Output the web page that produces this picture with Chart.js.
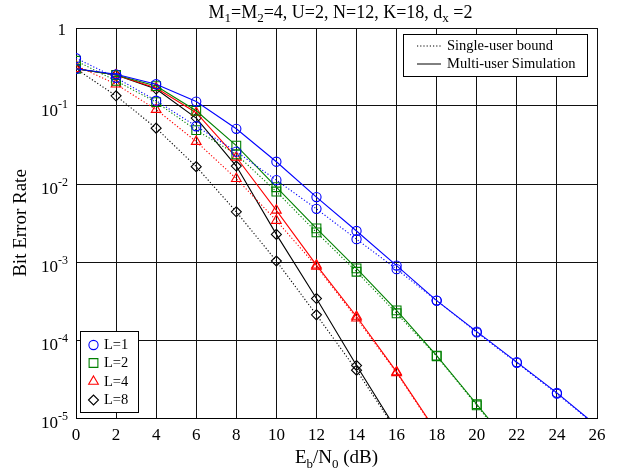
<!DOCTYPE html>
<html>
<head>
<meta charset="utf-8">
<script src="https://cdn.jsdelivr.net/npm/chart.js@4/dist/chart.umd.min.js"></script>
<style>
  html, body { margin: 0; padding: 0; background: #fff; }
  #wrap { width: 624px; height: 473px; position: relative; }
</style>
</head>
<body>
<div id="wrap"><canvas id="c" width="624" height="473"></canvas></div>
<script>
// ---- Data ----
const ebn0 = [0, 2, 4, 6, 8, 10, 12, 14, 16, 18, 20, 22, 24, 26];
const xTicks = [0, 2, 4, 6, 8, 10, 12, 14, 16, 18, 20, 22, 24, 26];
const yTickExponents = [0, -1, -2, -3, -4, -5];

const L1_multi  = [0.30, 0.255, 0.19, 0.114, 0.051, 0.0193, 0.0068, 0.0025, 0.0009, 0.00032, 0.000128, 0.000052, 0.000021, 0.0000079];
const L1_single = [0.41, 0.23, 0.117, 0.055, 0.026, 0.0112, 0.0048, 0.00196, 0.00081, 0.00032, 0.000125, 0.000051, 0.0000205, 0.0000078];
const L2_multi  = [0.30, 0.25, 0.18, 0.087, 0.031, 0.0091, 0.0027, 0.00083, 0.00024, 0.000063, 0.000015, 0.0000035];
const L2_single = [0.38, 0.21, 0.112, 0.049, 0.024, 0.0080, 0.0024, 0.00075, 0.00022, 0.000062, 0.0000145, 0.0000033];
const L4_multi  = [0.30, 0.25, 0.17, 0.082, 0.022, 0.0046, 0.00091, 0.0002, 0.000039, 0.0000066];
const L4_single = [0.33, 0.19, 0.09, 0.035, 0.0117, 0.0034, 0.00088, 0.00019, 0.000038, 0.0000064];
const L8_multi  = [0.30, 0.25, 0.165, 0.07, 0.017, 0.00226, 0.00034, 0.000047, 0.000007];
const L8_single = [0.30, 0.135, 0.052, 0.0167, 0.0044, 0.00103, 0.00021, 0.000041, 0.0000068];

const seriesNames = ['L=1', 'L=2', 'L=4', 'L=8'];
const lineLegend = ['Single-user bound', 'Multi-user Simulation'];

// ---- styles ----
const FONT = '"Liberation Serif", "Times New Roman", Times, serif';
const colors = ['#0000ff', '#008000', '#ff0000', '#000000'];
const shapes = ['circle', 'rect', 'triangle', 'rectRot'];
const radii  = [4.6, 6.2, 5.6, 5.0];

function pts(arr) { return arr.map((v, i) => ({ x: ebn0[i], y: v })); }

const multi = [L1_multi, L2_multi, L4_multi, L8_multi];
const single = [L1_single, L2_single, L4_single, L8_single];

const datasets = [];
for (let k = 0; k < 4; k++) {
  datasets.push({
    label: seriesNames[k] + ' single',
    data: pts(single[k]),
    borderColor: colors[k],
    borderWidth: 1.1,
    borderDash: [1.2, 2],
    pointStyle: shapes[k],
    pointRadius: radii[k],
    pointBorderColor: colors[k],
    pointBackgroundColor: 'rgba(0,0,0,0)',
    pointBorderWidth: 1.1,
    tension: 0
  });
  datasets.push({
    label: seriesNames[k] + ' multi',
    data: pts(multi[k]),
    borderColor: colors[k],
    borderWidth: 1.1,
    pointStyle: shapes[k],
    pointRadius: radii[k],
    pointBorderColor: colors[k],
    pointBackgroundColor: 'rgba(0,0,0,0)',
    pointBorderWidth: 1.1,
    tension: 0
  });
}

function drawRuns(ctx, runs, cx, cy, size, align) {
  const subSize = Math.round(size * 0.7);
  let total = 0;
  const widths = runs.map(r => {
    ctx.font = (r.sub || r.sup ? subSize : size) + 'px ' + FONT;
    const w = ctx.measureText(r.t).width;
    total += w;
    return w;
  });
  let x = align === 'right' ? cx - total : (align === 'left' ? cx : cx - total / 2);
  ctx.textBaseline = 'alphabetic';
  ctx.textAlign = 'left';
  const base = cy + size * 0.33;
  runs.forEach((r, i) => {
    ctx.font = (r.sub || r.sup ? subSize : size) + 'px ' + FONT;
    let y = base;
    if (r.sub) y = base + size * 0.25;
    if (r.sup) y = base - size * 0.42;
    ctx.fillText(r.t, x, y);
    x += widths[i];
  });
}

const decor = {
  id: 'decor',
  afterDatasetsDraw(chart) {
    const ctx = chart.ctx;
    ctx.save();
    // --- top-right legend (line styles) ---
    const bx = 403.5, by = 34.5, bw = 184, bh = 42;
    ctx.fillStyle = '#fff';
    ctx.fillRect(bx, by, bw, bh);
    ctx.strokeStyle = '#000';
    ctx.lineWidth = 1;
    ctx.strokeRect(bx, by, bw, bh);
    ctx.beginPath();
    ctx.setLineDash([1.2, 2]);
    ctx.moveTo(417, 46); ctx.lineTo(441, 46);
    ctx.stroke();
    ctx.setLineDash([]);
    ctx.beginPath();
    ctx.moveTo(417, 64); ctx.lineTo(441, 64);
    ctx.stroke();
    ctx.fillStyle = '#000';
    ctx.font = '14.5px ' + FONT;
    ctx.textAlign = 'left';
    ctx.textBaseline = 'middle';
    ctx.fillText(lineLegend[0], 447, 46);
    ctx.fillText(lineLegend[1], 447, 64);

    // --- bottom-left legend (markers) ---
    const lx = 80.5, ly = 331.5, lw = 58, lh = 81;
    ctx.fillStyle = '#fff';
    ctx.fillRect(lx, ly, lw, lh);
    ctx.strokeStyle = '#000';
    ctx.strokeRect(lx, ly, lw, lh);
    const rowsY = [345, 363, 381.5, 400];
    for (let k = 0; k < 4; k++) {
      const opts = { pointStyle: shapes[k], radius: radii[k], borderWidth: 1.1, rotation: 0 };
      ctx.strokeStyle = colors[k];
      ctx.fillStyle = 'rgba(0,0,0,0)';
      ctx.lineWidth = 1.1;
      if (Chart.helpers && Chart.helpers.drawPoint) {
        Chart.helpers.drawPoint(ctx, opts, 93.5, rowsY[k]);
      }
      ctx.fillStyle = '#000';
      ctx.font = '14.5px ' + FONT;
      ctx.textAlign = 'left';
      ctx.textBaseline = 'middle';
      ctx.fillText(seriesNames[k], 104, rowsY[k] + 0.5);
    }
    ctx.restore();
  },
  afterDraw(chart) {
    const ctx = chart.ctx;
    const area = chart.chartArea;
    const xs = chart.scales.x, ys = chart.scales.y;
    ctx.save();
    ctx.fillStyle = '#000';
    // x tick labels
    ctx.font = '17px ' + FONT;
    ctx.textAlign = 'center';
    ctx.textBaseline = 'middle';
    xTicks.forEach(v => {
      ctx.fillText(String(v), xs.getPixelForValue(v), area.bottom + 18);
    });
    // y tick labels
    yTickExponents.forEach(e => {
      const y = ys.getPixelForValue(Math.pow(10, e));
      if (e === 0) {
        ctx.font = '17px ' + FONT;
        ctx.textAlign = 'right';
        ctx.textBaseline = 'middle';
        ctx.fillText('1', 66, y + 3);
      } else {
        drawRuns(ctx, [{ t: '10' }, { t: String(e), sup: true }], 68, y + 4, 17, 'right');
      }
    });
    // title
    drawRuns(ctx, [
      { t: 'M' }, { t: '1', sub: true }, { t: '=M' }, { t: '2', sub: true },
      { t: '=4, U=2, N=12, K=18, d' }, { t: 'x', sub: true }, { t: ' =2' }
    ], (area.left + area.right) / 2 + 4, 12, 18, 'center');
    // x label
    drawRuns(ctx, [
      { t: 'E' }, { t: 'b', sub: true }, { t: '/N' }, { t: '0', sub: true }, { t: ' (dB)' }
    ], (area.left + area.right) / 2, 457, 19, 'center');
    // y label
    ctx.translate(21, (area.top + area.bottom) / 2);
    ctx.rotate(-Math.PI / 2);
    ctx.font = '19px ' + FONT;
    ctx.textAlign = 'center';
    ctx.textBaseline = 'middle';
    ctx.fillText('Bit Error Rate', 0, 0);
    ctx.restore();
  }
};

new Chart(document.getElementById('c'), {
  type: 'line',
  data: { datasets },
  options: {
    responsive: false,
    animation: false,
    devicePixelRatio: 1,
    layout: { padding: { left: 76, right: 27, top: 28, bottom: 55 } },
    plugins: { legend: { display: false }, title: { display: false }, tooltip: { enabled: false } },
    scales: {
      x: {
        type: 'linear', min: 0, max: 26,
        ticks: { display: false, stepSize: 2 },
        grid: { color: '#111', lineWidth: 1, drawTicks: false },
        border: { color: '#000', width: 1 }
      },
      y: {
        type: 'logarithmic', min: 1e-5, max: 1,
        ticks: { display: false },
        afterBuildTicks: (s) => { s.ticks = yTickExponents.map(e => ({ value: Math.pow(10, e) })); },
        grid: { color: '#111', lineWidth: 1, drawTicks: false },
        border: { color: '#000', width: 1 }
      }
    }
  },
  plugins: [decor]
});
</script>
</body>
</html>
